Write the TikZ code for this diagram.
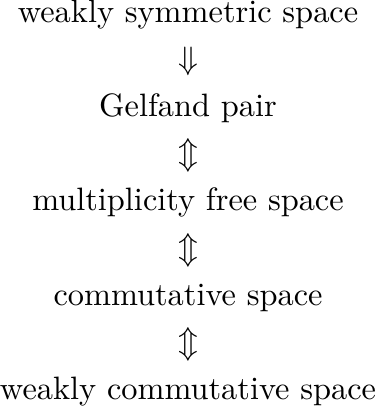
\documentclass[tikz,border=0pt]{standalone}
\begin{document}
\begin{tikzpicture}[lbl/.style={inner sep=0pt, anchor=base}]
\def\s{14.55pt}
\node[lbl] (a) at (0,0) {weakly symmetric space};
\node[lbl] (a1) at (0,-1*\s) {$\Downarrow$};
\node[lbl] (b) at (0,-2*\s) {Gelfand pair};
\node[lbl] (b1) at (0,-3*\s) {$\Updownarrow$};
\node[lbl] (c) at (0,-4*\s) {multiplicity free space};
\node[lbl] (c1) at (0,-5*\s) {$\Updownarrow$};
\node[lbl] (d) at (0,-6*\s) {commutative space};
\node[lbl] (d1) at (0,-7*\s) {$\Updownarrow$};
\node[lbl] (e) at (0,-8*\s) {weakly commutative space};
\end{tikzpicture}
\end{document}
